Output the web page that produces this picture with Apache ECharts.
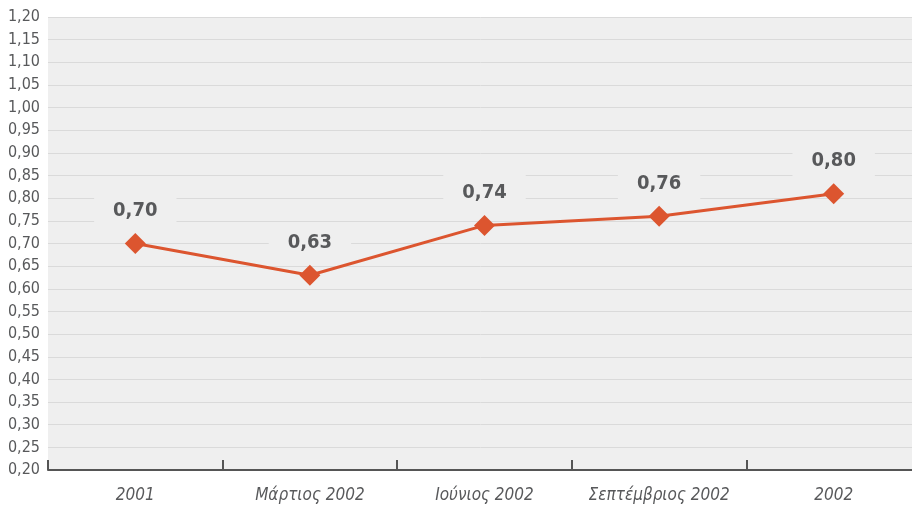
<!DOCTYPE html>
<html>
<head>
<meta charset="utf-8">
<script src="https://cdn.jsdelivr.net/npm/echarts@6/dist/echarts.min.js"></script>
<style>
  html, body { margin: 0; padding: 0; background: #fff; }
  #chart { width: 912px; height: 511px; }
</style>
</head>
<body>
<div id="chart"></div>
<script>
const categories = ['2001', 'Μάρτιος 2002', 'Ιούνιος 2002', 'Σεπτέμβριος 2002', '2002']
const values = [0.70, 0.63, 0.74, 0.76, 0.81]
const pointLabels = ['0,70', '0,63', '0,74', '0,76', '0,80']

const font = "'Liberation Sans Narrow', 'DejaVu Sans Condensed', Roboto, sans-serif"
const textColor = '#58595b'
const lineColor = '#dc552f'

const chart = echarts.init(document.getElementById('chart'))

chart.setOption({
  animation: false,
  textStyle: { fontFamily: font },
  grid: {
    left: 48,
    width: 873,
    top: 17,
    bottom: 41,
    outerBoundsMode: 'none',
    containLabel: false,
    show: true,
    backgroundColor: '#efefef',
    borderWidth: 0
  },
  xAxis: {
    type: 'category',
    data: categories,
    boundaryGap: true,
    axisLine: { lineStyle: { color: '#555', width: 2 } },
    axisTick: { show: true, interval: 0, inside: true, length: 10, lineStyle: { color: '#555', width: 2 } },
    axisLabel: {
      interval: 0,
      fontFamily: font,
      fontStyle: 'italic',
      fontSize: 17,
      color: textColor,
      margin: 17
    },
    splitLine: { show: false }
  },
  yAxis: {
    type: 'value',
    min: 0.2,
    max: 1.2,
    interval: 0.05,
    axisLine: { show: false },
    axisTick: { show: false },
    axisLabel: {
      fontFamily: font,
      fontSize: 16,
      color: textColor,
      margin: 8,
      formatter: v => v.toFixed(2).replace('.', ',')
    },
    splitLine: { lineStyle: { color: '#dadada', width: 1 } }
  },
  series: [{
    type: 'line',
    data: values,
    symbol: 'diamond',
    symbolSize: 21,
    lineStyle: { color: lineColor, width: 3 },
    itemStyle: { color: lineColor },
    label: {
      show: true,
      position: 'top',
      distance: 4,
      formatter: p => pointLabels[p.dataIndex],
      fontFamily: font,
      fontWeight: 'bold',
      fontSize: 20,
      color: textColor,
      backgroundColor: '#efefef',
      padding: [8, 19]
    }
  }]
})
</script>
</body>
</html>
